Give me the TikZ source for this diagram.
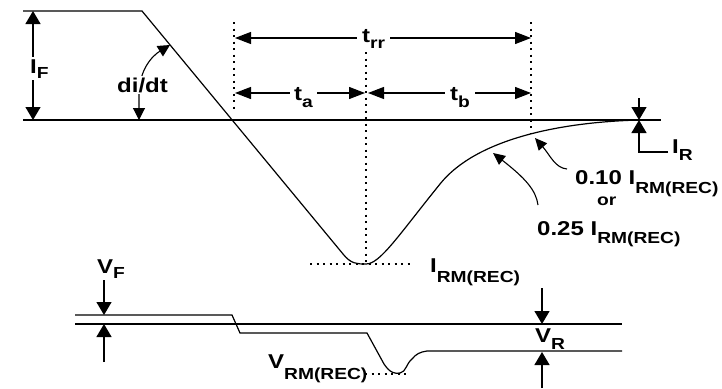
\documentclass[tikz,border=0pt]{standalone}
\usepackage{fontspec}
\newfontfamily\lbf{Liberation Sans Bold}[FakeStretch=1.2]
\usetikzlibrary{arrows.meta}
\newcommand\szA{\fontsize{20}{20}\selectfont}
\newcommand\szB{\fontsize{16}{16}\selectfont}
\newcommand\lbl[3]{{\szA #1}\raisebox{-#3pt}{\szB #2}}
\begin{document}
\begin{tikzpicture}[x=1pt,y=-1pt,
  wire/.style={line width=1.3pt},
  wave/.style={line width=1.2pt},
  dotline/.style={line width=2pt, dash pattern=on 2pt off 4.5pt},
  vtip/.style={line width=1.3pt, -{Triangle[length=13pt,width=15pt]}},
  vboth/.style={line width=1.3pt, {Triangle[length=13pt,width=15pt]}-{Triangle[length=13pt,width=15pt]}},
  hdim/.style={line width=1.3pt, {Triangle[length=16pt,width=12pt]}-{Triangle[length=16pt,width=12pt]}},
  ptr/.style={line width=1.1pt, -{Triangle[length=12pt,width=11pt]}},
  pboth/.style={line width=1.1pt, {Triangle[length=12pt,width=12pt]}-{Triangle[length=12pt,width=12pt]}},
  txt/.style={font=\lbf, inner sep=0pt, anchor=base west},
  cutlbl/.style={txt, fill=white, inner xsep=3pt, inner ysep=2pt},
]
\useasboundingbox (0,0) rectangle (722,388);

% current waveform
\coordinate (top0) at (23,11);
\coordinate (top1) at (142,11);
\coordinate (vbot) at (366,264);
\coordinate (irr) at (640,120);
\draw[wire] (23,120) -- (661,120);
\draw[wave] (top0) -- (top1) -- (343,254) .. controls (351,264) and (357,264) .. (vbot)
  .. controls (380,264) and (398,236) .. (440,184)
  .. controls (476,139) and (560,122) .. (irr);

% dotted guides
\draw[dotline] (234,22) -- (234,113);
\draw[dotline] (366,52) -- (366,262);
\draw[dotline] (531,22) -- (531,133);
\draw[dotline] (310,264) -- (414,264);

% I_F
\coordinate (ifa) at (33,11);
\coordinate (ifb) at (33,120);
\draw[vboth] (ifa) -- (ifb);
\node[cutlbl] (IF) at (27,73) {\lbl{I}{F}{5}};

% di/dt
\coordinate (dd1) at (139,120);
\coordinate (dd2) at (170,45);
\draw[pboth] (dd1) -- (139,95) .. controls (139,70) and (152,56) .. (dd2);
\node[cutlbl] (didt) at (114,92) {\szA di/dt};

% t_rr, t_a, t_b
\coordinate (trl) at (235,38);
\coordinate (trr) at (531,38);
\draw[hdim] (trl) -- (trr);
\node[cutlbl, inner xsep=5pt] (trrl) at (357,42) {\lbl{t}{rr}{6}};
\coordinate (tal) at (235,93);
\coordinate (tar) at (365,93);
\draw[hdim] (tal) -- (tar);
\node[cutlbl, inner xsep=4pt] (tal2) at (290,100) {\lbl{t}{a}{7}};
\coordinate (tbl) at (368,93);
\coordinate (tbr) at (531,93);
\draw[hdim] (tbl) -- (tbr);
\node[cutlbl, inner xsep=5pt] (tbl2) at (445,100) {\lbl{t}{b}{7}};

% I_R
\coordinate (ir0) at (639,98);
\coordinate (ir1) at (639,120);
\coordinate (ir2) at (668,152);
\draw[vtip] (ir0) -- (ir1);
\draw[vtip] (ir2) -- (639,152) -- (ir1);
\node[txt] (IR) at (672,153) {\lbl{I}{R}{7}};

% pointers to recovery curve
\coordinate (p1t) at (567,169);
\coordinate (p1h) at (535,138);
\draw[ptr] (p1t) .. controls (555,168) and (550,155) .. (p1h);
\coordinate (p2t) at (538,205);
\coordinate (p2h) at (493,153);
\draw[ptr] (p2t) .. controls (536,190) and (525,178) .. (p2h);
\node[txt] (l10) at (575,184) {\lbl{0.10 I}{RM(REC)}{9}};
\node[txt] (lor) at (597,205) {\szB or};
\node[txt] (l25) at (537,235) {\lbl{0.25 I}{RM(REC)}{8}};
\node[txt] (IRM) at (430,272) {\lbl{I}{RM(REC)}{10}};

% voltage waveform
\draw[wire] (75,324) -- (622,324);
\draw[wave] (75,315) -- (232,315) -- (240,333) -- (367,333) -- (384,364)
  .. controls (390,373) and (395,374) .. (400,373)
  .. controls (406,372) and (406,364) .. (412,359)
  .. controls (416,354) and (420,352) .. (427,351) -- (622,351);
\draw[dotline] (365,374) -- (406,374);
\node[txt] (VRM) at (268,368) {\lbl{V}{RM(REC)}{11}};

% V_F
\coordinate (vf0) at (104,280);
\coordinate (vf1) at (104,315);
\coordinate (vf2) at (104,362);
\coordinate (vf3) at (104,324);
\draw[vtip] (vf0) -- (vf1);
\draw[vtip] (vf2) -- (vf3);
\node[txt] (VF) at (97,273) {\lbl{V}{F}{5}};

% V_R
\coordinate (vr0) at (542,288);
\coordinate (vr1) at (542,324);
\coordinate (vr2) at (542,388);
\coordinate (vr3) at (542,352);
\draw[vtip] (vr0) -- (vr1);
\draw[vtip] (vr2) -- (vr3);
\node[txt] (VR) at (535,342) {\lbl{V}{R}{7}};
\end{tikzpicture}
\end{document}
